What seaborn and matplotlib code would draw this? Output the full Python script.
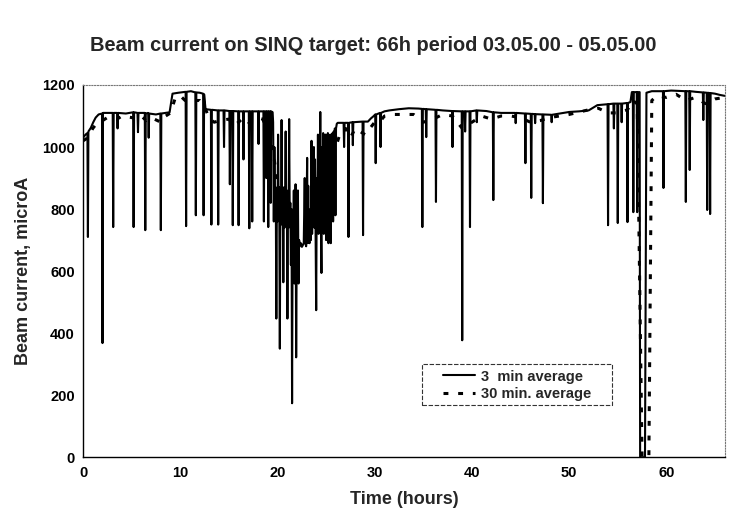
import matplotlib
matplotlib.use("Agg")
import matplotlib.pyplot as plt
from matplotlib.patches import Rectangle
import numpy as np
import pandas as pd
import seaborn as sns

# ---------------- data ----------------
# 3-minute average, segment by segment (time in hours, current in microA)
t3_a = [0.00, 0.25, 0.45, 0.50, 0.55, 0.80, 1.05, 1.30, 1.60, 1.95, 2.00, 2.05, 2.60, 3.05, 3.10, 3.15,
        3.50, 3.55, 3.60, 4.40, 5.15, 5.20, 5.25, 5.60, 5.65, 5.70, 6.35, 6.40, 6.45, 6.70, 6.75, 6.80,
        7.50, 7.95, 8.00, 8.05, 8.50, 8.90]
i3_a = [1030, 1040, 1045, 710, 1050, 1062, 1080, 1095, 1105, 1108, 368, 1110, 1110, 1110, 742, 1110,
        1110, 1060, 1110, 1108, 1112, 742, 1112, 1110, 1048, 1110, 1110, 732, 1108, 1110, 1030, 1108,
        1105, 1108, 732, 1108, 1110, 1112]

t3_b = [9.20, 9.80, 10.55, 10.60, 10.65, 11.10, 11.55, 11.60, 11.65, 12.00, 12.35, 12.40, 12.45]
i3_b = [1172, 1175, 1178, 745, 1178, 1180, 1176, 780, 1176, 1175, 1172, 780, 1170]

t3_c = [12.60, 13.15, 13.20, 13.25, 13.85, 13.90, 13.95, 14.45, 14.50, 14.55, 15.05, 15.10, 15.15,
        15.35, 15.40, 15.45, 15.95, 16.00, 16.05, 16.45, 16.50, 16.55, 17.05, 17.10, 17.15, 17.35,
        17.40, 17.45, 18.00, 18.05, 18.10, 18.55, 18.60, 18.65, 18.80, 18.85, 18.90, 19.00, 19.05,
        19.10, 19.25, 19.30, 19.35, 19.50]
i3_c = [1122, 1120, 750, 1120, 1118, 750, 1118, 1118, 1000, 1118, 1116, 880, 1116,
        1116, 748, 1116, 1115, 748, 1115, 1115, 960, 1115, 1115, 738, 1115, 1115,
        760, 1115, 1115, 1010, 1115, 1115, 760, 1115, 1115, 900, 1115, 1115, 742,
        1115, 1115, 820, 1115, 1112]

t3_d = [19.55, 19.62, 19.68, 19.75, 19.82, 19.88, 19.94, 20.00, 20.06, 20.12, 20.18, 20.24, 20.30,
        20.36, 20.42, 20.48, 20.54, 20.60, 20.66, 20.72, 20.78, 20.84, 20.90, 20.96, 21.02, 21.08,
        21.14, 21.20, 21.26, 21.32, 21.38, 21.44, 21.50, 21.56, 21.62, 21.68, 21.74, 21.80, 21.86,
        21.92, 21.98, 22.04, 22.10, 22.16, 22.22, 22.28, 22.40, 22.55, 22.70, 22.80, 22.86, 22.95,
        23.05, 23.10, 23.16, 23.22, 23.30, 23.38, 23.44, 23.50, 23.56, 23.62, 23.68, 23.74, 23.80,
        23.86, 23.92, 23.98, 24.04, 24.10, 24.16, 24.22, 24.28, 24.34, 24.40, 24.46, 24.52, 24.58,
        24.64, 24.70, 24.76, 24.82, 24.88, 24.94, 25.00, 25.06, 25.12, 25.18, 25.24, 25.30, 25.36,
        25.42, 25.48, 25.54, 25.60, 25.66, 25.72, 25.78, 25.84, 25.90, 25.96, 26.02, 26.10]
i3_d = [1080, 760, 1000, 800, 870, 447, 860, 760, 1040, 780, 870, 350, 860,
        750, 1087, 760, 850, 564, 870, 740, 820, 1050, 760, 860, 447, 840,
        740, 1090, 760, 820, 620, 800, 174, 780, 690, 860, 560, 720, 880,
        322, 700, 640, 860, 560, 700, 690, 690, 680, 690, 900, 690, 680,
        965, 690, 875, 700, 690, 800, 700, 1020, 720, 900, 760, 1000, 740,
        960, 700, 474, 900, 760, 1040, 720, 980, 800, 1113, 760, 594, 1000,
        780, 1045, 720, 960, 800, 1040, 700, 980, 760, 1045, 690, 1000, 800,
        1040, 690, 1030, 820, 1045, 760, 1050, 860, 1060, 780, 1060, 1075]

t3_e = [26.20, 26.80, 26.85, 26.90, 27.25, 27.30, 27.35, 27.70, 27.75, 27.80, 28.75, 28.80, 28.85,
        29.30, 29.60, 29.90, 30.05, 30.10, 30.15, 30.55, 30.60, 30.65, 31.00]
i3_e = [1078, 1078, 1000, 1078, 1078, 710, 1078, 1080, 1006, 1080, 1082, 716, 1082,
        1082, 1092, 1100, 1105, 948, 1105, 1110, 1000, 1110, 1115]

t3_f = [31.50, 32.50, 33.50, 34.50, 34.85, 34.90, 34.95, 35.25, 35.30, 35.35, 36.25, 36.30, 36.35,
        37.00, 37.95, 38.00, 38.05, 38.95, 39.00, 39.05, 39.25, 39.30, 39.35, 39.75, 39.80, 39.85,
        40.45, 40.50, 40.55, 41.50, 42.15, 42.20, 42.25, 43.00, 44.45, 44.50, 44.55, 45.45, 45.50,
        45.55, 46.05, 46.10, 46.15, 46.45, 46.50, 46.55, 47.25, 47.30, 47.35, 48.15, 48.20, 48.25,
        49.00, 50.00, 51.00, 52.00, 52.90, 53.95, 54.00, 54.05, 54.55, 54.60, 54.65, 54.95, 55.00,
        55.05, 55.35, 55.40, 55.45, 55.95, 56.00, 56.05, 56.30, 56.45, 56.55, 56.60, 56.65, 56.95,
        57.00, 57.05, 57.25, 57.30]
i3_f = [1118, 1122, 1125, 1124, 1123, 742, 1123, 1122, 1032, 1122, 1120, 823, 1120,
        1118, 1116, 1000, 1116, 1115, 377, 1115, 1115, 1050, 1115, 1115, 742, 1115,
        1118, 1080, 1118, 1116, 1112, 829, 1112, 1110, 1110, 1077, 1110, 1108, 948,
        1108, 1107, 836, 1107, 1106, 1077, 1106, 1105, 819, 1105, 1104, 1080, 1104,
        1108, 1113, 1115, 1118, 1135, 1138, 748, 1138, 1140, 1060, 1140, 1140, 755,
        1140, 1140, 1080, 1140, 1142, 758, 1142, 1145, 1177, 1177, 790, 1177, 1177,
        790, 1177, 1177, 0]

t3_g = [57.80, 57.95, 58.50, 59.65, 59.70, 59.75, 60.50, 61.95, 62.00, 62.05, 62.35, 62.40, 62.45,
        63.00, 63.75, 63.80, 63.85, 64.15, 64.20, 64.25, 64.45, 64.50, 64.55, 65.00, 65.50, 66.00]
i3_g = [0, 1175, 1180, 1180, 868, 1180, 1182, 1180, 823, 1180, 1180, 926, 1180,
        1178, 1176, 1087, 1176, 1175, 797, 1175, 1174, 784, 1174, 1172, 1168, 1165]

# 30-minute average
t30 = [0.0, 0.5, 1.0, 1.5, 2.0, 2.5, 3.5, 4.0, 5.0, 5.5, 6.0, 6.5, 7.0, 8.0, 8.5, 9.0, 9.5,
       10.0, 10.5, 11.0, 11.5, 12.0, 12.5, 13.0, 13.5, 14.0, 15.0, 15.5, 16.0, 16.5, 17.0, 18.0,
       18.5, 19.0, 19.5, 20.0, 20.5, 21.0, 21.5, 22.0, 22.5, 23.0, 23.5, 24.0, 24.5, 25.0, 25.5,
       26.0, 26.5, 27.0, 27.5, 28.0, 28.5, 29.0, 29.5, 30.0, 30.5, 31.0, 32.0, 34.0, 35.0, 36.0,
       37.0, 38.0, 39.0, 40.0, 41.0, 42.0, 43.0, 44.0, 45.0, 46.0, 47.0, 48.0, 49.0, 50.0, 52.0,
       53.0, 54.0, 55.0, 56.0, 56.5, 57.0, 57.5, 58.2, 58.5, 59.0, 60.0, 61.0, 62.0, 63.0, 64.0,
       65.0, 66.0]
i30 = [1020, 1030, 1060, 1080, 1085, 1095, 1090, 1100, 1095, 1090, 1100, 1085, 1095, 1080, 1100, 1110, 1160,
       1165, 1150, 1155, 1150, 1150, 1130, 1090, 1080, 1085, 1090, 1070, 1080, 1095, 1080, 1095,
       1090, 1040, 1000, 880, 830, 800, 720, 700, 680, 690, 760, 850, 900, 920, 960,
       1000, 1050, 1060, 1030, 1060, 1050, 1040, 1060, 1080, 1080, 1100, 1105, 1105, 1080, 1090,
       1105, 1100, 1060, 1080, 1100, 1090, 1100, 1100, 1095, 1080, 1085, 1095, 1100, 1105, 1120,
       1125, 1110, 1110, 1120, 1150, 1140, 0, 0, 1150, 1165, 1160, 1170, 1150, 1160, 1140,
       1155, 1160]

title = "Beam current on SINQ target: 66h period 03.05.00 - 05.05.00"
x_ticks = [0, 10, 20, 30, 40, 50, 60]
y_ticks = [0, 200, 400, 600, 800, 1000, 1200]

# ---------------- plot ----------------
sns.set_style("white")
plt.rcParams['font.family'] = ['Liberation Sans', 'DejaVu Sans']
plt.rcParams['font.weight'] = 'bold'

t3 = t3_a + t3_b + t3_c + t3_d + t3_e + t3_f + t3_g
i3 = i3_a + i3_b + i3_c + i3_d + i3_e + i3_f + i3_g
df3 = pd.DataFrame({"Time": t3, "Current": i3})
df30 = pd.DataFrame({"Time": t30, "Current": i30})

fig = plt.figure(figsize=(7.35, 5.12), dpi=100)
ax = fig.add_axes([0.113, 0.107, 0.873, 0.727])

sns.lineplot(data=df3, x="Time", y="Current", ax=ax, color="black", linewidth=1.5,
             estimator=None, sort=False, label="3  min average")
sns.lineplot(data=df30, x="Time", y="Current", ax=ax, color="black", linewidth=2.2,
             estimator=None, sort=False, linestyle=(0, (1.6, 3.2)), label="30 min. average")

ax.set_xlim(0, 66)
ax.set_ylim(0, 1200)
ax.set_xticks(x_ticks)
ax.set_yticks(y_ticks)
ax.tick_params(axis="both", direction="inout", length=6, width=1, labelsize=10.5,
               colors="black", pad=3)
for lab in ax.get_xticklabels() + ax.get_yticklabels():
    lab.set_fontweight("bold")

for s in ["left", "bottom"]:
    ax.spines[s].set_color("black")
    ax.spines[s].set_linewidth(1.0)
for s in ["top", "right"]:
    ax.spines[s].set_color("#777777")
    ax.spines[s].set_linewidth(0.8)
    ax.spines[s].set_linestyle((0, (1, 1.5)))

ax.set_xlabel("Time (hours)", fontsize=13, fontweight="bold")
ax.set_ylabel("Beam current, microA", fontsize=13, fontweight="bold")
ax.xaxis.set_label_coords(0.5, -0.09)
ax.yaxis.set_label_coords(-0.08, 0.5)

fig.text(0.508, 0.912, title, ha="center", va="center", fontsize=14.4, fontweight="bold")

# legend (frame drawn separately to match the wide box of the original)
leg = ax.legend(loc="center", bbox_to_anchor=(0.677, 0.193), frameon=False,
                fontsize=10.5, handlelength=2.2, labelspacing=0.25, handletextpad=0.4)
for txt in leg.get_texts():
    txt.set_fontweight("bold")
ax.add_patch(Rectangle((0.529, 0.140), 0.296, 0.110, transform=ax.transAxes,
                       fill=False, edgecolor="#333333", linewidth=0.8,
                       linestyle=(0, (4, 1.5)), zorder=5))

fig.savefig("out.png", dpi=100, facecolor="white")
